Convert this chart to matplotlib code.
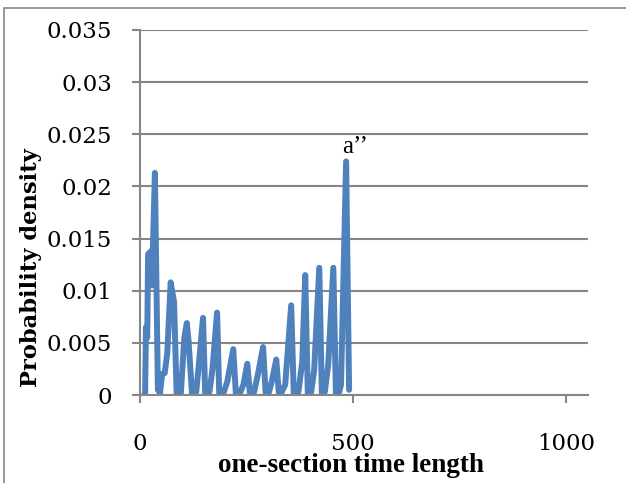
import matplotlib.pyplot as plt
from matplotlib.patches import Rectangle

# one-section time length vs probability density
time_length = [10, 12, 14, 17, 19, 26, 28, 35, 42, 47, 52, 58, 64, 72, 80, 86,
               96, 104, 110, 114, 122, 132, 137, 148, 153, 163, 170, 181, 186,
               197, 205, 219, 225, 236, 243, 252, 258, 268, 277, 289, 295, 303,
               310, 320, 326, 333, 341, 355, 361, 372, 381, 388, 394, 402, 409,
               421, 427, 434, 442, 454, 460, 468, 472, 484, 491]
density = [0, 0.0002, 0.0065, 0.0055, 0.0135, 0.0138, 0.0105, 0.0213, 0.0005,
           0.0002, 0.002, 0.0021, 0.004, 0.0108, 0.0089, 0.0002,
           0.0002, 0.0055, 0.0069, 0.0052, 0.0002, 0.0003, 0.0024, 0.0074,
           0.0002, 0.0003, 0.0024, 0.0079, 0.0002,
           0.0003, 0.0013, 0.0044, 0.0002, 0.0003, 0.001, 0.003, 0.0002,
           0.0003, 0.002, 0.0046, 0.0002, 0.0003,
           0.0014, 0.0034, 0.0002, 0.0003, 0.001, 0.0086, 0.0002, 0.0003,
           0.0032, 0.0115, 0.0002, 0.0003, 0.0024,
           0.0122, 0.0002, 0.0003, 0.0029, 0.0122, 0.0002, 0.0003, 0.001,
           0.0224, 0.0005]

x_ticks = [0, 500, 1000]
y_ticks = [0, 0.005, 0.01, 0.015, 0.02, 0.025, 0.03, 0.035]
y_tick_labels = ["0", "0.005", "0.01", "0.015", "0.02", "0.025", "0.03", "0.035"]

gray = "#868686"

fig = plt.figure(figsize=(6.26, 4.83), dpi=100)
fig.patches.append(Rectangle((4 / 626, -0.1), 1.2, 0.1 + (483 - 8) / 483,
                             transform=fig.transFigure, fill=False,
                             edgecolor=gray, linewidth=1.2))

ax = fig.add_axes([140 / 626, 1 - 395 / 483, 448 / 626, 365 / 483])
ax.plot(time_length, density, color="#4F81BD", linewidth=4.3,
        solid_joinstyle="round", solid_capstyle="round")

ax.set_xlim(0, 1052)
ax.set_ylim(0, 0.035)
ax.set_xticks(x_ticks)
ax.set_yticks(y_ticks)
ax.set_yticklabels(y_tick_labels)
ax.grid(axis="y", color=gray, linewidth=1.5)
ax.set_axisbelow(True)

for s in ["top", "right"]:
    ax.spines[s].set_visible(False)
for s in ["left", "bottom"]:
    ax.spines[s].set_color(gray)
    ax.spines[s].set_linewidth(1.5)

ax.tick_params(axis="both", direction="out", length=6, width=1.5, color=gray,
               labelsize=16.5)
ax.tick_params(axis="x", pad=21)
ax.tick_params(axis="y", pad=14)
for lab in ax.get_xticklabels() + ax.get_yticklabels():
    lab.set_family("DejaVu Serif")

ax.text(505, 0.0238, "a\u2019\u2019", family="Liberation Serif", fontsize=18,
        ha="center", va="center")

fig.text(351 / 626, 1 - 466 / 483, "one-section time length",
         family="Liberation Serif", fontweight="bold", fontsize=19.5,
         ha="center", va="center")
fig.text(31 / 626, 1 - 268 / 483, "Probability density",
         family="DejaVu Serif", fontweight="bold", fontsize=16.3,
         ha="center", va="center", rotation=90)

fig.savefig("out.png", dpi=100)
